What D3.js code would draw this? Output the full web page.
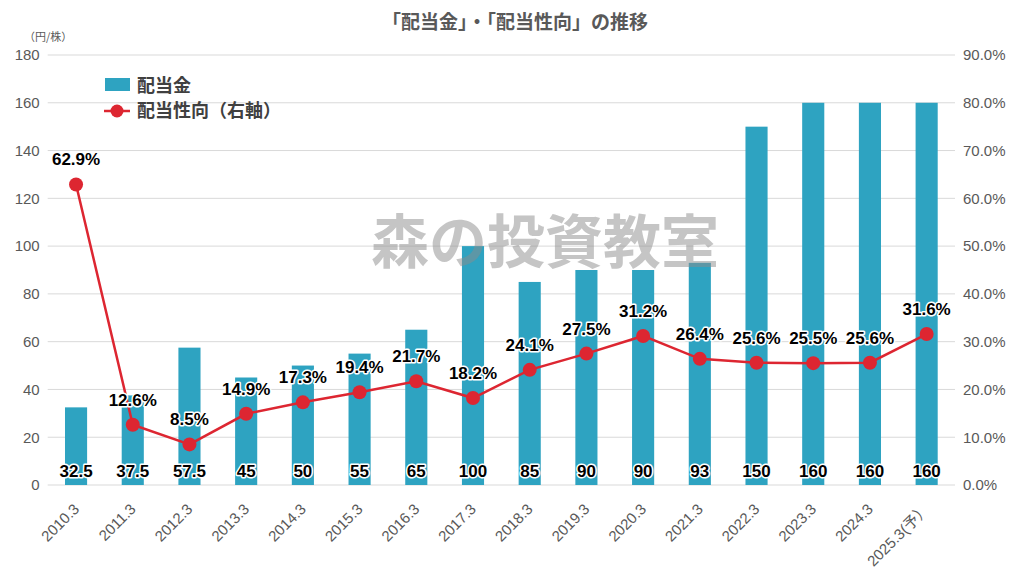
<!DOCTYPE html>
<html><head><meta charset="utf-8">
<script src="https://cdn.jsdelivr.net/npm/d3@7"></script>
<style>
body{margin:0;background:#fff;}
svg{display:block;font-family:"Liberation Sans","Noto Sans CJK JP",sans-serif;}
</style></head>
<body><svg id="c" width="1024" height="581"></svg>
<script>
const categories = ["2010.3","2011.3","2012.3","2013.3","2014.3","2015.3","2016.3","2017.3","2018.3","2019.3","2020.3","2021.3","2022.3","2023.3","2024.3","2025.3(予）"];
const dividends = [32.5,37.5,57.5,45,50,55,65,100,85,90,90,93,150,160,160,160];
const payoutRatio = [62.9,12.6,8.5,14.9,17.3,19.4,21.7,18.2,24.1,27.5,31.2,26.4,25.6,25.5,25.6,31.6];
const leftTicks = [0,20,40,60,80,100,120,140,160,180];
const rightTicks = [0,10,20,30,40,50,60,70,80,90];

const svg = d3.select("#c");
const m = {l:47.7, r:955, t:55, b:485};
const x = d3.scaleBand().domain(categories).range([m.l,m.r]).paddingInner(0.61).paddingOuter(0.305);
const y = d3.scaleLinear().domain([0,180]).range([m.b,m.t]);
const y2 = d3.scaleLinear().domain([0,90]).range([m.b,m.t]);
const barColor = "#2ea3c1", lineColor = "#dd2631", gray = "#595959";
const jp = "'Noto Sans CJK JP',sans-serif";

// grid
svg.append("g").selectAll("line").data(leftTicks).join("line")
  .attr("x1",m.l).attr("x2",m.r).attr("y1",d=>y(d)).attr("y2",d=>y(d))
  .attr("stroke","#d9d9d9").attr("stroke-width",1);

// left axis
const la = svg.append("g").attr("transform",`translate(${m.l},0)`)
  .call(d3.axisLeft(y).tickValues(leftTicks).tickSize(0).tickPadding(8));
la.select(".domain").remove();
la.selectAll("text").attr("font-size",15).attr("fill",gray).attr("font-family","'Liberation Sans',sans-serif");

// right axis
const ra = svg.append("g").attr("transform",`translate(${m.r},0)`)
  .call(d3.axisRight(y2).tickValues(rightTicks).tickSize(0).tickPadding(8).tickFormat(d=>d.toFixed(1)+"%"));
ra.select(".domain").remove();
ra.selectAll("text").attr("font-size",15).attr("fill",gray).attr("font-family","'Liberation Sans',sans-serif");

// x axis
const xa = svg.append("g").attr("transform",`translate(0,${m.b})`)
  .call(d3.axisBottom(x).tickSize(0).tickPadding(0));
xa.select(".domain").remove();
xa.selectAll("text").attr("font-size",15).attr("fill",gray)
  .attr("font-family","'Liberation Sans','Noto Sans CJK JP',sans-serif")
  .attr("text-anchor","end").attr("dy","0")
  .attr("transform","translate(4,25) rotate(-45)");

// bars
svg.append("g").selectAll("rect").data(dividends).join("rect")
  .attr("x",(d,i)=>x(categories[i])).attr("width",x.bandwidth())
  .attr("y",d=>y(d)).attr("height",d=>y(0)-y(d)).attr("fill",barColor);

// watermark
svg.append("text").attr("x",545).attr("y",263).attr("text-anchor","middle")
  .attr("font-family",jp).attr("font-weight","bold").attr("font-size",58)
  .attr("fill","rgba(140,140,140,0.5)").text("森の投資教室");

// line
const cx = (d,i)=>x(categories[i])+x.bandwidth()/2;
svg.append("path").datum(payoutRatio)
  .attr("d",d3.line().x(cx).y(d=>y2(d)))
  .attr("fill","none").attr("stroke",lineColor).attr("stroke-width",2.5);
svg.append("g").selectAll("circle").data(payoutRatio).join("circle")
  .attr("cx",cx).attr("cy",d=>y2(d)).attr("r",7).attr("fill",lineColor);

// labels
function halo(sel){
  sel.attr("font-family","'Liberation Sans',sans-serif").attr("font-weight","bold").attr("font-size",17)
    .attr("fill","#000").attr("stroke","#fff").attr("stroke-width",3).attr("paint-order","stroke")
    .attr("stroke-linejoin","round").attr("text-anchor","middle");
}
svg.append("g").selectAll("text").data(dividends).join("text")
  .attr("x",cx).attr("y",m.b-8).text(d=>d).call(halo);
svg.append("g").selectAll("text").data(payoutRatio).join("text")
  .attr("x",cx).attr("y",d=>y2(d)-19).text(d=>d.toFixed(1)+"%").call(halo);

// title
svg.append("text").attr("x",515).attr("y",29).attr("text-anchor","middle")
  .attr("font-family",jp).attr("font-weight","bold").attr("font-size",19).attr("fill",gray)
  .text("「配当金」・「配当性向」の推移");
svg.append("text").attr("x",24).attr("y",41).attr("font-family",jp).attr("font-size",11).attr("fill",gray)
  .text("（円/株）");

// legend
const lg = svg.append("g");
lg.append("rect").attr("x",105).attr("y",78).attr("width",25).attr("height",13).attr("fill",barColor);
lg.append("text").attr("x",137).attr("y",92).attr("font-family",jp).attr("font-weight","bold").attr("font-size",18).attr("fill","#404040").text("配当金");
lg.append("line").attr("x1",104).attr("x2",130).attr("y1",111).attr("y2",111).attr("stroke",lineColor).attr("stroke-width",2.5);
lg.append("circle").attr("cx",117).attr("cy",111).attr("r",6.5).attr("fill",lineColor);
lg.append("text").attr("x",137).attr("y",117).attr("font-family",jp).attr("font-weight","bold").attr("font-size",18).attr("fill","#404040").text("配当性向（右軸）");
</script></body></html>
